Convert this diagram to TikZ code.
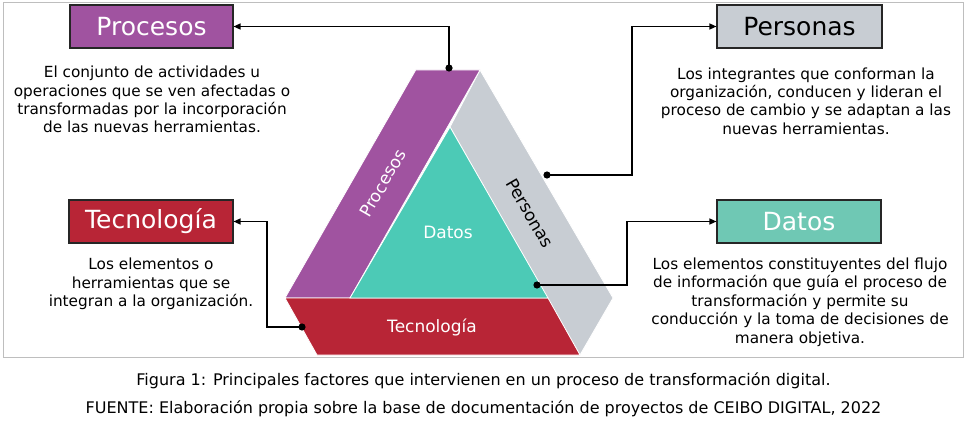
\documentclass[tikz,border=0pt]{standalone}
\usepackage{fontspec}
\setmainfont{DejaVu Sans}
\usetikzlibrary{arrows.meta}
\definecolor{cproc}{RGB}{160,83,160}
\definecolor{cpers}{RGB}{200,205,211}
\definecolor{cdat}{RGB}{76,202,182}
\definecolor{cdatbox}{RGB}{111,200,180}
\definecolor{ctec}{RGB}{184,37,54}
\definecolor{cframe}{RGB}{190,190,190}
\tikzset{
  titlebox/.style={draw=black!85, line width=1.1pt, minimum height=43pt, inner sep=0pt, font=\fontsize{25}{30}\selectfont},
  desc/.style={align=center, inner sep=0pt, font=\fontsize{15.3}{18.4}\selectfont},
  conn/.style={draw=black, line width=1.2pt, -{Triangle[length=7pt,width=6pt]}},
  band/.style={draw=white, line width=0.8pt},
  tri/.style={font=\fontsize{17}{20}\selectfont, inner sep=0pt},
  capt/.style={font=\fontsize{16}{19}\selectfont, inner sep=0pt}
}
\begin{document}
\begin{tikzpicture}[x=1pt,y=-1pt]
\useasboundingbox (0,0) rectangle (967,425);
\draw[cframe, line width=1pt] (3,3) rectangle (963,357);

% triangle bands
\path[band, fill=cpers] (480,70) -- (613,298) -- (580,355) -- (450,127) -- cycle;
\path[band, fill=cproc] (415.7,70) -- (480,70) -- (350,298) -- (285,298) -- cycle;
\path[band, fill=ctec] (285,298) -- (548,298) -- (580,355) -- (317,355) -- cycle;
\path[band, fill=cdat] (450,127) -- (548,298) -- (350,298) -- cycle;

\node[tri, text=white, rotate=60.1] (lproc) at (383,183) {Procesos};
\node[tri, text=black, rotate=-59.7] (lpers) at (530,213) {Personas};
\node[tri, text=white] (ldat) at (448,232) {Datos};
\node[tri, text=white] (ltec) at (432,327) {Tecnología};

% title boxes
\node[titlebox, fill=cproc, text=white, minimum width=163pt] (bproc) at (151.5,26.5) {Procesos};
\node[titlebox, fill=cpers, text=black, minimum width=165pt] (bpers) at (799.5,26.5) {Personas};
\node[titlebox, fill=ctec, text=white, minimum width=164pt] (btec) at (151,221.5) {Tecnología};
\node[titlebox, fill=cdatbox, text=white, minimum width=164pt] (bdat) at (799,221.5) {Datos};

% descriptions
\node[desc] (tproc) at (152,99.5) {El conjunto de actividades u\\operaciones que se ven afectadas o\\transformadas por la incorporación\\de las nuevas herramientas.};
\node[desc] (tpers) at (806,101) {Los integrantes que conforman la\\organización, conducen y lideran el\\proceso de cambio y se adaptan a las\\nuevas herramientas.};
\node[desc] (ttec) at (151,284) {Los elementos o\\herramientas que se\\integran a la organización.};
\node[desc] (tdat) at (800,302) {Los elementos constituyentes del flujo\\de información que guía el proceso de\\transformación y permite su\\conducción y la toma de decisiones de\\manera objetiva.};

% connector anchors
\coordinate (dproc) at (449,68);
\coordinate (dpers) at (547,175);
\coordinate (kpers) at (632,26.5);
\coordinate (dtec) at (302,327);
\coordinate (ktec) at (267,221.5);
\coordinate (ddat) at (537,285);
\coordinate (kdat) at (627,221.5);

\draw[conn] (dproc) |- (bproc.east);
\draw[conn] (dpers) -| (kpers) -- (bpers.west);
\draw[conn] (dtec) -| (ktec) -- (btec.east);
\draw[conn] (ddat) -| (kdat) -- (bdat.west);
\foreach \d in {dproc,dpers,dtec,ddat} \fill (\d) circle (3.6pt);

% captions
\node[capt] (cap1) at (483.5,381) {Figura 1: Principales factores que intervienen en un proceso de transformación digital.};
\node[capt] (cap2) at (483.5,409) {FUENTE: Elaboración propia sobre la base de documentación de proyectos de CEIBO DIGITAL, 2022};
\end{tikzpicture}
\end{document}
